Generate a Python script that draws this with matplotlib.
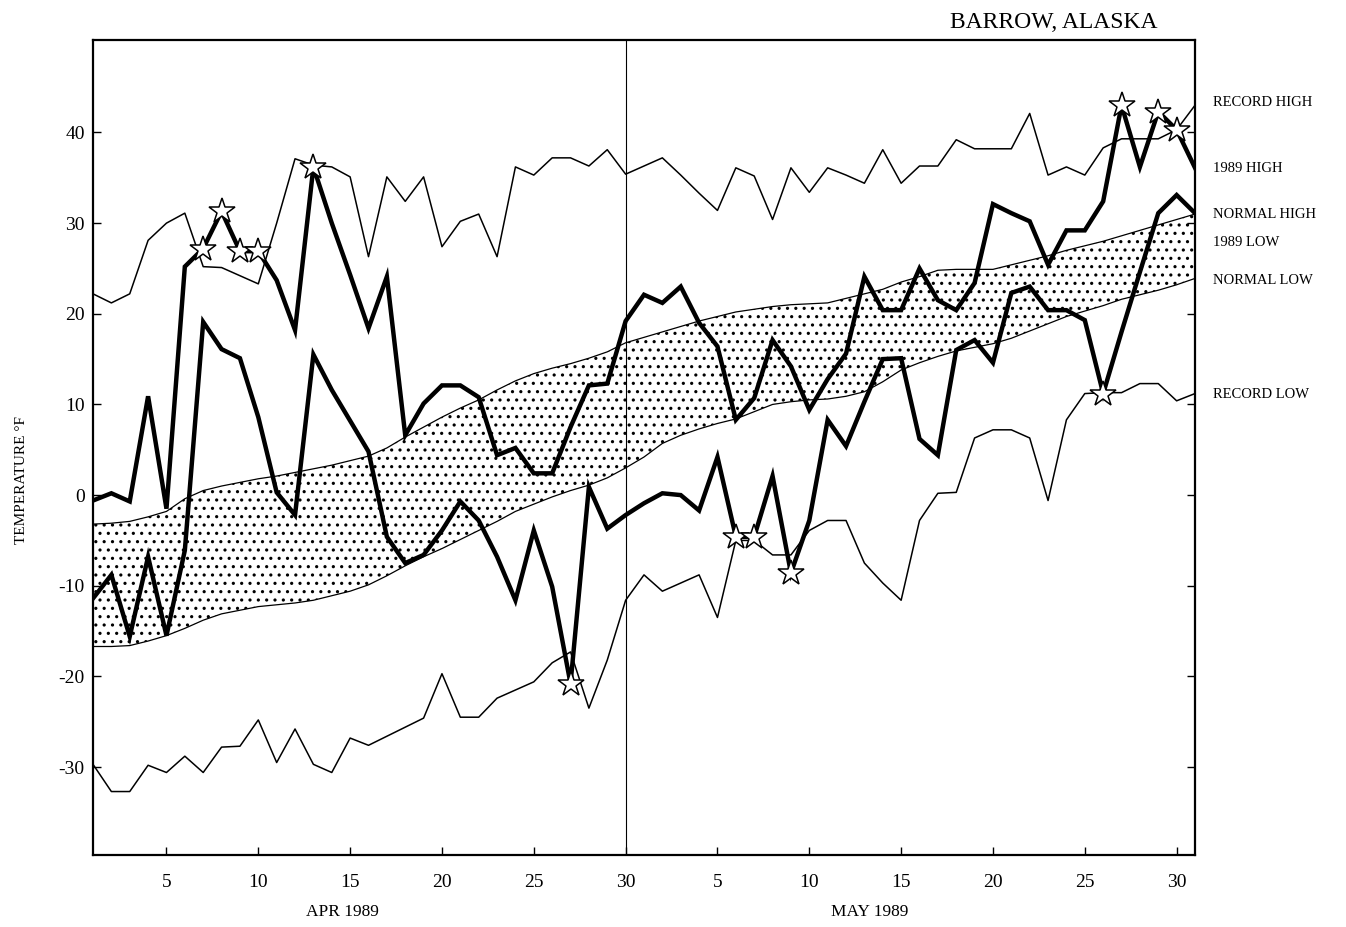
import numpy as np
import matplotlib
matplotlib.use("Agg")
import matplotlib.pyplot as plt

plt.rcParams['font.family'] = ['Liberation Serif', 'DejaVu Serif']
plt.rcParams['hatch.linewidth'] = 1.1
plt.rcParams['axes.unicode_minus'] = False

# daily values, Apr 1 .. May 31 1989 (deg F)
record_high = [22.2, 21.2, 22.2, 28.1, 30.0, 31.1, 25.2, 25.1, 24.2, 23.3,
               30.0, 37.1, 36.4, 36.2, 35.1, 26.3, 35.1, 32.4, 35.1, 27.4,
               30.2, 31.0, 26.3, 36.2, 35.3, 37.2, 37.2, 36.3, 38.1, 35.4,
               36.3, 37.2, 35.3, 33.3, 31.4, 36.1, 35.2, 30.4, 36.1, 33.4,
               36.1, 35.3, 34.4, 38.1, 34.4, 36.3, 36.3, 39.2, 38.2, 38.2,
               38.2, 42.1, 35.3, 36.2, 35.3, 38.3, 39.3, 39.3, 39.3, 40.3, 43.0]

record_low = [-29.7, -32.7, -32.7, -29.8, -30.6, -28.8, -30.6, -27.8, -27.7, -24.8,
              -29.5, -25.8, -29.7, -30.6, -26.8, -27.6, -26.6, -25.6, -24.6, -19.7,
              -24.5, -24.5, -22.4, -21.5, -20.6, -18.5, -17.3, -23.5, -18.2, -11.6,
              -8.8, -10.6, -9.7, -8.8, -13.5, -5.0, -5.0, -6.6, -6.6, -3.9,
              -2.8, -2.8, -7.5, -9.7, -11.6, -2.8, 0.2, 0.3, 6.3, 7.2,
              7.2, 6.3, -0.6, 8.3, 11.2, 11.3, 11.3, 12.3, 12.3, 10.4, 11.2]

normal_high = [-3.2, -3.1, -2.9, -2.4, -1.8, -0.4, 0.5, 1.0, 1.4, 1.8,
               2.1, 2.5, 2.9, 3.3, 3.8, 4.3, 5.2, 6.4, 7.5, 8.6,
               9.6, 10.5, 11.6, 12.6, 13.4, 14.0, 14.5, 15.1, 15.8, 16.8,
               17.4, 18.0, 18.6, 19.2, 19.7, 20.2, 20.5, 20.8, 21.0, 21.1,
               21.2, 21.7, 22.2, 22.7, 23.5, 24.1, 24.8, 24.9, 24.9, 24.9,
               25.4, 25.9, 26.4, 27.0, 27.5, 28.0, 28.6, 29.2, 29.8, 30.4, 31.0]

normal_low = [-16.7, -16.7, -16.6, -16.1, -15.5, -14.7, -13.8, -13.1, -12.7, -12.3,
              -12.1, -11.9, -11.6, -11.1, -10.6, -9.9, -8.9, -7.8, -6.8, -5.9,
              -4.9, -3.9, -2.9, -1.8, -1.0, -0.2, 0.5, 1.1, 1.9, 3.0,
              4.2, 5.7, 6.6, 7.3, 7.9, 8.4, 9.2, 10.0, 10.3, 10.5,
              10.6, 10.9, 11.4, 12.5, 13.8, 14.6, 15.3, 15.9, 16.3, 16.7,
              17.3, 18.1, 18.9, 19.7, 20.3, 20.9, 21.6, 22.1, 22.6, 23.2, 23.9]

high_1989 = [-0.6, 0.2, -0.7, 10.9, -1.5, 25.2, 27.2, 31.3, 26.9, 26.9,
             23.7, 18.2, 36.2, 30.0, 24.3, 18.4, 24.1, 6.6, 10.1, 12.1,
             12.1, 10.8, 4.4, 5.2, 2.4, 2.4, 7.5, 12.1, 12.3, 19.2,
             22.1, 21.2, 23.0, 19.0, 16.4, 8.3, 10.7, 17.1, 14.2, 9.4,
             12.8, 15.6, 24.1, 20.4, 20.4, 25.0, 21.5, 20.4, 23.4, 32.1,
             31.1, 30.2, 25.4, 29.2, 29.2, 32.4, 43.0, 36.2, 42.3, 40.3, 36.1]

low_1989 = [-11.4, -8.8, -15.6, -6.8, -15.5, -6.1, 19.1, 16.1, 15.1, 8.6,
            0.3, -2.2, 15.5, 11.6, 8.2, 4.8, -4.6, -7.5, -6.6, -3.9,
            -0.7, -2.8, -6.8, -11.6, -3.9, -10.1, -20.8, 0.9, -3.7, -2.2,
            -0.9, 0.2, 0.0, -1.7, 4.2, -4.6, -4.6, 2.1, -8.6, -2.8,
            8.3, 5.4, 10.3, 15.0, 15.1, 6.2, 4.4, 16.0, 17.1, 14.6,
            22.3, 23.0, 20.4, 20.4, 19.3, 11.2, 18.0, 24.6, 31.1, 33.1, 31.1]

# days where a record was set (index into the arrays)
star_high = [6, 7, 8, 9, 12, 56, 58, 59]
star_low = [26, 35, 36, 38, 55]

tick_pos = [4, 9, 14, 19, 24, 29, 34, 39, 44, 49, 54, 59]
tick_lab = ['5', '10', '15', '20', '25', '30', '5', '10', '15', '20', '25', '30']

days = np.arange(len(record_high))
W, H = 1346, 927

fig = plt.figure(figsize=(W / 100, H / 100), dpi=100)
ax = fig.add_axes([93 / W, 1 - 855 / H, (1195 - 93) / W, (855 - 40) / H])

# normal band, stippled
ax.fill_between(days, normal_low, normal_high, facecolor='white', edgecolor='black',
                hatch='..', linewidth=0)
ax.plot(days, normal_high, color='black', lw=0.9)
ax.plot(days, normal_low, color='black', lw=0.9)

ax.plot(days, record_high, color='black', lw=1.1)
ax.plot(days, record_low, color='black', lw=1.1)

ax.plot(days, high_1989, color='black', lw=3.2, solid_joinstyle='miter')
ax.plot(days, low_1989, color='black', lw=3.2, solid_joinstyle='miter')

ax.plot(days[star_high], np.array(high_1989)[star_high], ls='none', marker='*', ms=19,
        mfc='white', mec='black', mew=1.1, zorder=5)
ax.plot(days[star_low], np.array(low_1989)[star_low], ls='none', marker='*', ms=19,
        mfc='white', mec='black', mew=1.1, zorder=5)

# end of April
ax.axvline(29, color='black', lw=0.8)

ax.set_xlim(0, 60)
ax.set_ylim(-39.7, 50.2)
ax.set_xticks(tick_pos)
ax.set_xticklabels(tick_lab)
ax.set_yticks([-30, -20, -10, 0, 10, 20, 30, 40])
ax.tick_params(axis='both', direction='in', length=6, width=1.0, labelsize=14)
ax.tick_params(axis='x', pad=14)
ax.tick_params(axis='y', pad=6, right=True)
for s in ax.spines.values():
    s.set_linewidth(1.6)

fig.text(1157 / W, 1 - 22 / H, 'BARROW, ALASKA', fontsize=17, ha='right', va='center')
fig.text(22 / W, 1 - 480 / H, 'TEMPERATURE °F', fontsize=11, rotation=90,
         ha='center', va='center')
fig.text(342 / W, 1 - 912 / H, 'APR 1989', fontsize=12.5, ha='center', va='center')
fig.text(870 / W, 1 - 912 / H, 'MAY 1989', fontsize=12.5, ha='center', va='center')

labels = ['RECORD HIGH', '1989 HIGH', 'NORMAL HIGH', '1989 LOW', 'NORMAL LOW', 'RECORD LOW']
label_y = [103, 168, 215, 243, 281, 394]
for txt, yy in zip(labels, label_y):
    fig.text(1213 / W, 1 - yy / H, txt, fontsize=10.5, ha='left', va='center')

plt.savefig('out.png', dpi=100)
